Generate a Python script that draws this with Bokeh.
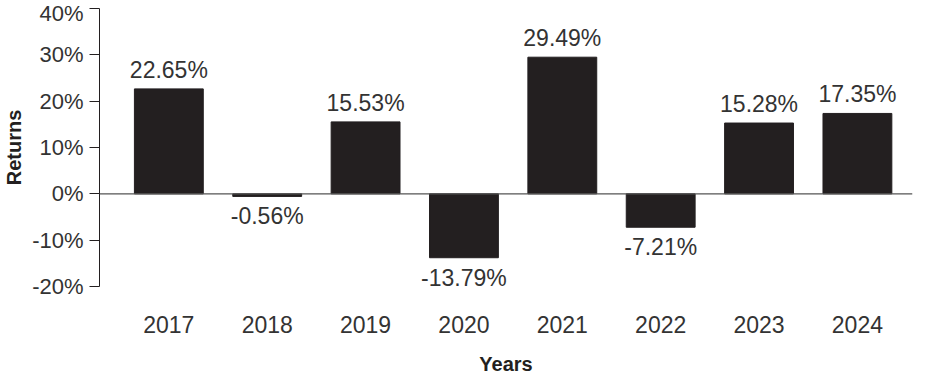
from bokeh.plotting import figure
from bokeh.models import ColumnDataSource, FixedTicker, PrintfTickFormatter, Span, Range1d
from bokeh.core.properties import value
from bokeh.embed import file_html
from bokeh.resources import INLINE

years = ["2017", "2018", "2019", "2020", "2021", "2022", "2023", "2024"]
returns = [22.65, -0.56, 15.53, -13.79, 29.49, -7.21, 15.28, 17.35]
y_ticks = [-20, -10, 0, 10, 20, 30, 40]

FONT = "Liberation Sans"
INK = "#231f20"
TXT = "#333333"

idx = list(range(len(years)))
labels = [f"{v:.2f}%" for v in returns]
source = ColumnDataSource(dict(
    x=idx, top=returns,
    ypos=[v if v >= 0 else 0 for v in returns],
    yneg=[v if v < 0 else 0 for v in returns],
    lab_pos=[l if v >= 0 else "" for l, v in zip(labels, returns)],
    lab_neg=[l if v < 0 else "" for l, v in zip(labels, returns)],
))

p = figure(width=928, height=377, output_backend="svg", toolbar_location=None,
           x_range=Range1d(-0.705, len(years) - 1 + 0.56), y_range=Range1d(-20, 40),
           min_border_left=97, min_border_top=8, min_border_right=16, min_border_bottom=0)
p.outline_line_color = None
p.xgrid.visible = False
p.ygrid.visible = False
p.background_fill_color = "white"
p.border_fill_color = "white"

p.vbar(x="x", top="top", bottom=0, width=0.70, source=source,
       fill_color=INK, line_color=INK)

p.add_layout(Span(location=0, dimension="width", line_color="#555555", line_width=1.2))

p.text(x="x", y="ypos", text="lab_pos", source=source, text_align="center",
       text_baseline="bottom", y_offset=-6, text_font=value(FONT),
       text_font_size="23px", text_color=TXT)
p.text(x="x", y="yneg", text="lab_neg", source=source, text_align="center",
       text_baseline="top", y_offset=7, text_font=value(FONT),
       text_font_size="23px", text_color=TXT)

ya = p.yaxis[0]
ya.ticker = FixedTicker(ticks=y_ticks)
ya.formatter = PrintfTickFormatter(format="%d%%")
ya.major_tick_out = 10
ya.major_tick_in = 0
ya.minor_tick_out = 0
ya.minor_tick_in = 0
ya.major_label_standoff = 6
ya.axis_line_color = INK
ya.major_tick_line_color = INK
ya.major_label_text_font = FONT
ya.major_label_text_font_size = "22px"
ya.major_label_text_color = TXT
ya.axis_label = "Returns"
ya.axis_label_text_font = FONT
ya.axis_label_text_font_style = "bold"
ya.axis_label_text_font_size = "20px"
ya.axis_label_text_color = INK
ya.axis_label_standoff = 4

xa = p.xaxis[0]
xa.ticker = FixedTicker(ticks=idx)
xa.major_label_overrides = {i: y for i, y in zip(idx, years)}
xa.axis_line_color = None
xa.major_tick_line_color = None
xa.minor_tick_line_color = None
xa.major_tick_out = 0
xa.major_tick_in = 0
xa.major_label_standoff = 29
xa.major_label_text_font = FONT
xa.major_label_text_font_size = "23px"
xa.major_label_text_color = TXT
xa.axis_label = "Years"
xa.axis_label_text_font = FONT
xa.axis_label_text_font_style = "bold"
xa.axis_label_text_font_size = "20px"
xa.axis_label_text_color = INK
xa.axis_label_standoff = 17

open("out.html", "w").write(file_html(p, INLINE))
